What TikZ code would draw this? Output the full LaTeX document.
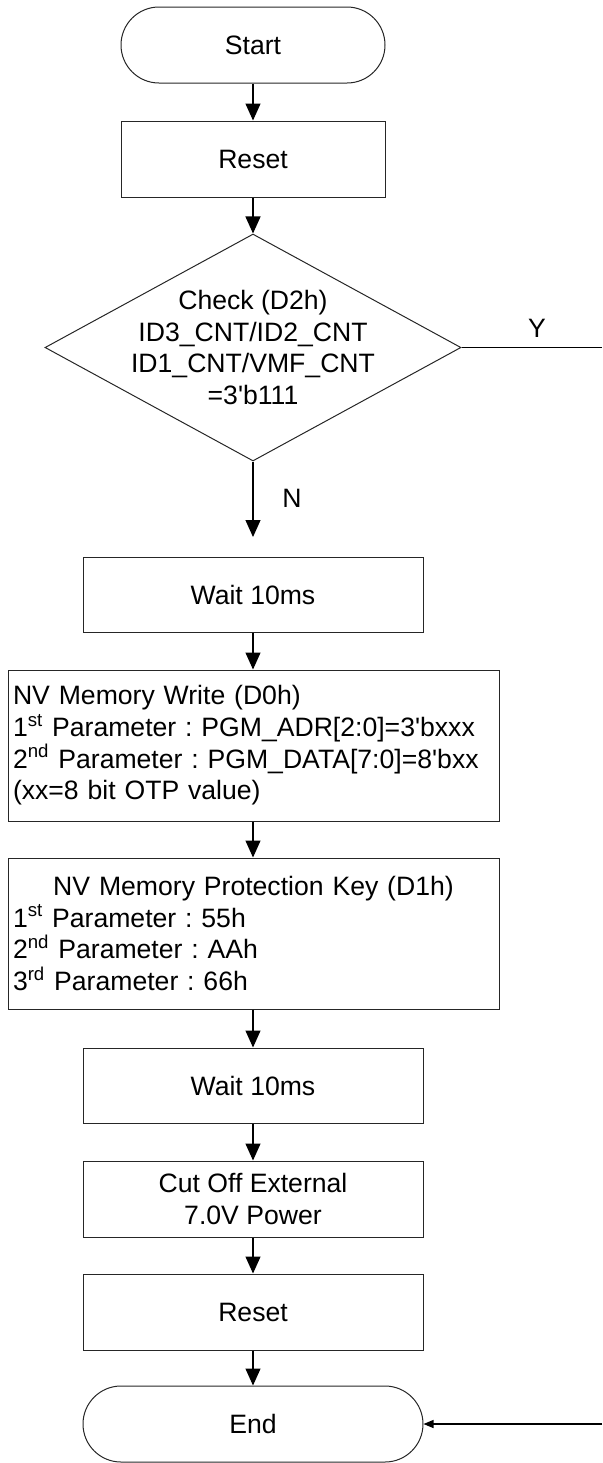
\documentclass[tikz,border=0pt]{standalone}
\usepackage{fontspec}
\setmainfont{Liberation Sans}
\usetikzlibrary{shapes.geometric,arrows.meta}
\frenchspacing
\begin{document}
\begin{tikzpicture}[x=0.5pt,y=-0.5pt,
  font=\fontsize{13.3pt}{15.85pt}\selectfont\frenchspacing,
  box/.style={draw=black!85, line width=0.5pt, inner sep=0pt, minimum height=38pt, align=center},
  term/.style={box, rounded corners=19pt},
  flow/.style={-{Triangle[length=8.5pt,width=7.5pt]}, line width=0.6pt},
  smallflow/.style={-{Triangle[length=5pt,width=4pt]}, line width=0.6pt},
]
\useasboundingbox (0,0) rectangle (602,1463);
% nodes
\node[term, minimum width=132pt] (start) at (253,45) {Start};
\node[box, minimum width=132pt] (reset1) at (253,159) {Reset};
\node[draw=black!85, line width=0.5pt, diamond, minimum width=208pt, minimum height=113.5pt, inner sep=0pt] (dia) at (253,347.5) {};
\node[align=center, inner sep=0pt] (diatext) at (253,347.5) {Check (D2h)\\ID3\_CNT/ID2\_CNT\\ID1\_CNT/VMF\_CNT\\=3\textquotesingle b111};
\node[inner sep=0pt] (ylab) at (537,328) {Y};
\node[inner sep=0pt] (nlab) at (292,498) {N};
\coordinate (nend) at (253,537);
\coordinate (yR) at (602,347.5);
\node[box, minimum width=170pt, minimum height=37.5pt] (wait1) at (253,594.5) {Wait 10ms};
\node[box, minimum width=245.5pt, minimum height=75.5pt, text width=240.5pt, align=left] (nvw) at (253.5,745.5)
  {NV Memory Write (D0h)\\
   1\textsuperscript{st} Parameter : PGM\_ADR[2:0]=3\textquotesingle bxxx\\
   2\textsuperscript{nd} Parameter : PGM\_DATA[7:0]=8\textquotesingle bxx\\
   (xx=8 bit OTP value)};
\node[box, minimum width=245.5pt, minimum height=75.5pt, text width=240.5pt, align=left] (nvp) at (253.5,933.5)
  {\makebox[\linewidth]{NV Memory Protection Key (D1h)}\\
   1\textsuperscript{st} Parameter : 55h\\
   2\textsuperscript{nd} Parameter : AAh\\
   3\textsuperscript{rd} Parameter : 66h};
\node[box, minimum width=170pt, minimum height=37.5pt] (wait2) at (253,1085.5) {Wait 10ms};
\node[box, minimum width=170pt] (cut) at (253,1199) {Cut Off External\\7.0V Power};
\node[box, minimum width=170pt] (reset2) at (253,1312) {Reset};
\node[term, minimum width=170pt] (end) at (253,1424) {End};
\coordinate (eR) at (602,1424);
% connectors
\draw[flow] (start) -- (reset1);
\draw[flow] (reset1) -- (dia);
\draw[line width=0.6pt] (dia.east) -- (yR);
\draw[flow] (dia.south) -- (nend);
\draw[flow] (wait1.south) -- (wait1.south |- nvw.north);
\draw[flow] (wait1.south |- nvw.south) -- (wait1.south |- nvp.north);
\draw[flow] (wait2.north |- nvp.south) -- (wait2.north);
\draw[flow] (wait2) -- (cut);
\draw[flow] (cut) -- (reset2);
\draw[flow] (reset2) -- (end);
\draw[smallflow] (eR) -- (end.east);
\end{tikzpicture}
\end{document}
